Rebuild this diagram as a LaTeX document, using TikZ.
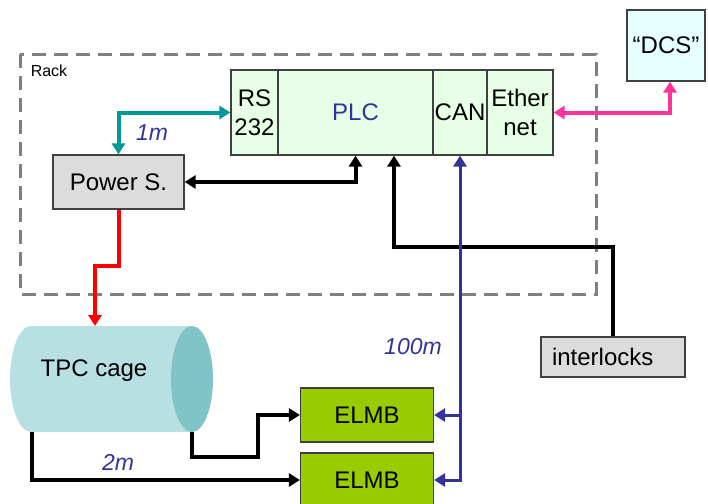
\documentclass[tikz,border=0pt]{standalone}
\usepackage{fontspec}
\setmainfont{Liberation Sans}
\usetikzlibrary{arrows.meta,calc}
\definecolor{plcfill}{HTML}{E6FFE6}
\definecolor{dcsfill}{HTML}{E6FFFF}
\definecolor{grayfill}{HTML}{DCDCDC}
\definecolor{elmbfill}{HTML}{99CC00}
\definecolor{boxline}{HTML}{404040}
\definecolor{rackline}{HTML}{808080}
\definecolor{labblue}{HTML}{333399}
\definecolor{tealc}{HTML}{009999}
\definecolor{pinkc}{HTML}{FF3399}
\definecolor{tpcbody}{HTML}{B8E0E3}
\definecolor{tpcend}{HTML}{80C4C8}
\begin{document}
\begin{tikzpicture}[x=1pt,y=-1pt,
  >={Triangle[length=11pt,width=13pt]},
  box/.style={draw=boxline,line width=1.2pt,inner sep=0pt,
    font=\fontsize{24}{29}\selectfont,align=center},
  conn/.style={line width=4pt,line join=miter},
  lab/.style={font=\fontsize{23}{28}\selectfont\itshape,text=labblue,inner sep=0pt},
]
\useasboundingbox (0,0) rectangle (708,503);

% rack
\draw[rackline,line width=3pt,dash pattern=on 14pt off 8pt] (20,54) rectangle (596,294);
\node[font=\fontsize{16}{18}\selectfont,inner sep=0pt] (rack) at (49,71) {Rack};

% PLC group
\node[box,fill=plcfill,minimum width=47,minimum height=85] (rs) at (254.5,112.5) {RS\\232};
\node[box,fill=plcfill,minimum width=155,minimum height=85,text=labblue] (plc) at (355.5,112.5) {PLC};
\node[box,fill=plcfill,minimum width=54,minimum height=85] (can) at (460,112.5) {CAN};
\node[box,fill=plcfill,minimum width=66,minimum height=85] (eth) at (520,112.5) {Ether\\net};

\node[box,fill=dcsfill,minimum width=78,minimum height=71] (dcs) at (666,45.5) {“DCS”};
\node[box,fill=grayfill,minimum width=131,minimum height=54] (pws) at (118.5,182) {Power S.};
\node[box,fill=grayfill,minimum height=40,text width=122pt,align=left,inner xsep=11pt] (il) at (613,357) {interlocks};
\node[box,fill=elmbfill,minimum width=133,minimum height=54] (elmb1) at (367,415) {ELMB};
\node[box,fill=elmbfill,minimum width=133,minimum height=54] (elmb2) at (367,480) {ELMB};

% TPC cage cylinder
\fill[tpcbody] (31,326) -- (192,326) -- (192,432) -- (31,432) arc[start angle=270,end angle=90,x radius=21,y radius=-53] -- cycle;
\fill[tpcend] (192,379) ellipse[x radius=21,y radius=53];
\node[font=\fontsize{24}{28}\selectfont,inner sep=0pt] (tpc) at (94,371) {TPC cage};
\coordinate (tpctop) at (95,326);
\coordinate (tpcleft) at (32,432);
\coordinate (tpcright) at (192,432);

% connectors
\draw[conn,tealc,<->] (rs.west) -| (pws.north);
\draw[conn,black,<->] (pws.east) -| (plc.south);
\draw[conn,pinkc,<->] (eth.east) -| ([xshift=4]dcs.south);
\draw[conn,red,->] (pws.south) -- ++(0,56) -| (tpctop);
\draw[conn,black,->] (il.north) -- ++(0,-89) -| ([xshift=38.5]plc.south);
\draw[conn,labblue,line width=3pt,<->] (can.south) |- (elmb2.east);
\draw[conn,labblue,line width=3pt,->] (can.south |- elmb1.east) -- (elmb1.east);
\draw[conn,black,->] (tpcright) |- (258,457) |- (elmb1.west);
\draw[conn,black,->] (tpcleft) |- (elmb2.west);

% labels
\node[lab] (l1) at (152,133) {1m};
\node[lab] (l100) at (413,347) {100m};
\node[lab] (l2) at (118,462) {2m};
\end{tikzpicture}
\end{document}
